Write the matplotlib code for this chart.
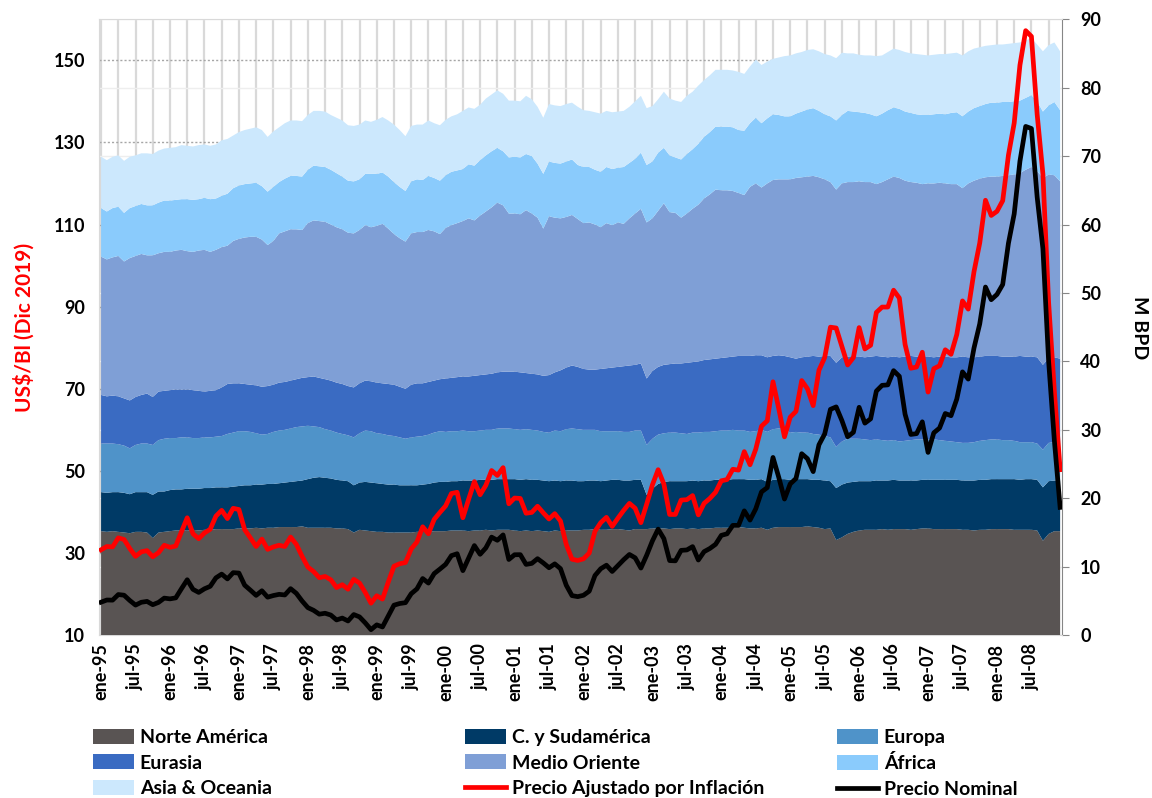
import numpy as np
import matplotlib.pyplot as plt
from matplotlib.patches import Patch
from matplotlib.lines import Line2D

plt.rcParams['font.family'] = ['Lato', 'DejaVu Sans']
plt.rcParams['font.weight'] = 'bold'

# DATA - monthly, ene-95 .. dic-08
# production by region (M BPD), one row per year
norte_america = [
    15.2, 15.1, 15.2, 15.1, 15.0, 14.9, 15.1, 15.1, 15.0, 14.2, 15.0, 15.1,
    15.2, 15.3, 15.3, 15.3, 15.4, 15.3, 15.4, 15.4, 15.5, 15.5, 15.5, 15.5,
    15.6, 15.6, 15.6, 15.7, 15.6, 15.7, 15.7, 15.8, 15.8, 15.8, 15.8, 15.9,
    15.7, 15.7, 15.7, 15.7, 15.7, 15.6, 15.6, 15.5, 15.0, 15.4, 15.3, 15.2,
    15.1, 15.1, 15.0, 15.0, 15.0, 15.0, 15.0, 15.1, 15.1, 15.1, 15.2, 15.2,
    15.2, 15.3, 15.3, 15.3, 15.2, 15.3, 15.3, 15.4, 15.3, 15.4, 15.4, 15.4,
    15.3, 15.2, 15.3, 15.2, 15.3, 15.2, 15.1, 15.3, 15.2, 15.3, 15.3, 15.3,
    15.4, 15.4, 15.5, 15.4, 15.4, 15.5, 15.5, 15.4, 15.3, 15.5, 15.5, 15.5,
    15.6, 15.6, 15.6, 15.5, 15.6, 15.6, 15.5, 15.6, 15.5, 15.6, 15.6, 15.7,
    15.7, 15.7, 15.7, 15.8, 15.7, 15.6, 15.6, 15.7, 15.4, 15.7, 15.8, 15.8,
    15.8, 15.8, 15.8, 15.9, 15.8, 15.7, 15.5, 15.6, 13.9, 14.3, 14.8, 15.1,
    15.3, 15.4, 15.4, 15.4, 15.5, 15.4, 15.5, 15.5, 15.5, 15.4, 15.5, 15.6,
    15.6, 15.5, 15.5, 15.5, 15.5, 15.5, 15.4, 15.4, 15.3, 15.4, 15.4, 15.5,
    15.5, 15.5, 15.5, 15.4, 15.4, 15.4, 15.4, 15.3, 13.8, 14.8, 15.2, 15.2,
]
sudamerica = [
    5.7, 5.7, 5.7, 5.8, 5.8, 5.7, 5.8, 5.8, 5.9, 6.3, 6.0, 5.9,
    6.0, 6.0, 6.0, 6.1, 6.0, 6.1, 6.1, 6.1, 6.1, 6.1, 6.1, 6.2,
    6.2, 6.3, 6.3, 6.3, 6.4, 6.4, 6.4, 6.4, 6.5, 6.6, 6.7, 6.7,
    7.1, 7.3, 7.4, 7.3, 7.2, 7.1, 7.0, 7.0, 6.9, 6.9, 7.1, 7.1,
    7.1, 7.0, 7.0, 7.0, 6.9, 6.9, 6.9, 6.8, 6.9, 7.0, 7.1, 7.2,
    7.2, 7.2, 7.2, 7.3, 7.4, 7.3, 7.4, 7.3, 7.4, 7.4, 7.4, 7.4,
    7.5, 7.5, 7.5, 7.5, 7.4, 7.4, 7.4, 7.3, 7.3, 7.3, 7.3, 7.2,
    7.1, 7.2, 7.1, 7.1, 7.2, 7.2, 7.2, 7.2, 7.3, 7.2, 7.2, 5.0,
    5.8, 6.5, 6.8, 7.0, 6.9, 6.9, 7.0, 7.0, 7.0, 7.0, 7.0, 7.0,
    7.0, 7.0, 7.1, 7.0, 7.1, 7.1, 7.1, 7.1, 7.0, 7.0, 7.0, 7.0,
    6.9, 7.0, 7.0, 6.9, 6.9, 7.0, 7.1, 6.9, 7.6, 7.7, 7.5, 7.3,
    7.2, 7.1, 7.1, 7.2, 7.1, 7.2, 7.2, 7.1, 7.1, 7.2, 7.1, 7.1,
    7.1, 7.2, 7.2, 7.2, 7.2, 7.2, 7.2, 7.2, 7.3, 7.3, 7.3, 7.3,
    7.3, 7.3, 7.3, 7.4, 7.3, 7.4, 7.4, 7.4, 7.8, 7.7, 7.4, 7.4,
]
europa = [
    7.1, 7.2, 7.1, 7.0, 6.9, 6.7, 6.9, 7.1, 7.1, 7.3, 7.5, 7.7,
    7.6, 7.5, 7.6, 7.5, 7.4, 7.4, 7.4, 7.4, 7.4, 7.5, 7.8, 7.9,
    8.0, 7.9, 7.8, 7.5, 7.3, 7.3, 7.6, 7.7, 7.7, 7.8, 7.9, 7.9,
    7.8, 7.5, 7.3, 7.1, 7.0, 6.9, 6.8, 6.7, 7.0, 7.2, 7.5, 7.5,
    7.3, 7.3, 7.2, 7.1, 7.0, 6.8, 7.0, 7.1, 7.1, 7.2, 7.3, 7.4,
    7.3, 7.3, 7.3, 7.3, 7.2, 7.2, 7.2, 7.3, 7.3, 7.4, 7.4, 7.4,
    7.3, 7.3, 7.3, 7.3, 7.2, 7.1, 7.1, 7.3, 7.3, 7.5, 7.6, 7.6,
    7.5, 7.4, 7.4, 7.3, 7.2, 7.1, 7.1, 7.1, 7.1, 7.2, 7.2, 7.3,
    7.3, 7.2, 7.1, 7.1, 7.1, 7.0, 6.9, 7.0, 7.1, 7.1, 7.1, 7.1,
    7.2, 7.2, 7.2, 7.1, 7.1, 7.0, 7.1, 7.2, 7.3, 7.4, 7.4, 7.3,
    6.9, 6.9, 6.8, 6.8, 6.7, 6.6, 6.5, 6.4, 6.0, 6.3, 6.4, 6.3,
    6.2, 6.1, 6.0, 6.0, 5.9, 5.8, 5.8, 5.7, 5.8, 5.9, 6.0, 5.9,
    5.9, 5.9, 5.8, 5.7, 5.6, 5.5, 5.5, 5.5, 5.6, 5.7, 5.8, 5.8,
    5.8, 5.7, 5.7, 5.6, 5.5, 5.4, 5.4, 5.3, 5.5, 5.6, 5.6, 5.6,
]
eurasia = [
    7.1, 6.9, 7.0, 7.0, 6.9, 7.0, 7.0, 7.1, 7.3, 7.0, 7.1, 7.0,
    7.0, 7.1, 7.0, 7.0, 7.0, 6.9, 6.7, 6.8, 6.8, 7.1, 7.3, 7.2,
    7.0, 6.9, 6.9, 7.0, 7.0, 7.0, 6.9, 7.0, 7.0, 7.0, 7.0, 7.1,
    7.1, 7.3, 7.2, 7.3, 7.3, 7.3, 7.3, 7.2, 7.3, 7.3, 7.3, 7.3,
    7.4, 7.4, 7.5, 7.5, 7.4, 7.3, 7.7, 7.8, 7.7, 7.7, 7.6, 7.6,
    7.8, 7.8, 7.9, 7.9, 8.0, 8.1, 8.1, 8.1, 8.2, 8.2, 8.3, 8.3,
    8.4, 8.4, 8.2, 8.2, 8.2, 8.2, 8.4, 8.5, 8.9, 9.0, 9.2, 9.1,
    8.9, 8.8, 8.8, 9.1, 9.2, 9.3, 9.4, 9.6, 9.7, 9.6, 9.8, 9.7,
    9.9, 9.9, 10.0, 10.0, 10.1, 10.2, 10.4, 10.3, 10.4, 10.5, 10.6, 10.6,
    10.6, 10.7, 10.7, 10.9, 10.9, 11.1, 11.1, 10.9, 10.9, 10.7, 10.7, 10.7,
    11.0, 10.7, 11.0, 11.1, 11.4, 11.4, 11.7, 11.9, 12.3, 12.3, 12.0, 12.1,
    12.0, 12.0, 12.2, 12.2, 12.2, 12.2, 12.2, 12.3, 12.3, 12.3, 12.1, 12.2,
    12.1, 12.0, 12.2, 12.3, 12.3, 12.4, 12.6, 12.5, 12.4, 12.3, 12.3, 12.2,
    12.2, 12.2, 12.2, 12.3, 12.6, 12.5, 12.5, 12.6, 12.4, 12.4, 12.4, 12.2,
]
medio_oriente = [
    20.2, 20.0, 20.2, 20.5, 20.0, 20.8, 20.6, 20.6, 20.2, 20.7, 20.2, 20.3,
    20.2, 20.3, 20.4, 20.2, 20.2, 20.5, 20.7, 20.3, 20.5, 20.5, 20.2, 20.8,
    21.1, 21.4, 21.6, 21.7, 21.5, 20.6, 21.0, 21.8, 22.0, 22.1, 21.9, 21.6,
    22.5, 22.8, 22.9, 23.0, 22.8, 22.7, 22.6, 22.4, 22.5, 22.4, 22.7, 22.5,
    22.9, 23.3, 22.7, 22.0, 21.7, 21.5, 22.1, 22.1, 22.1, 22.2, 21.8, 21.2,
    22.0, 22.3, 22.5, 22.7, 23.1, 22.7, 23.3, 23.8, 24.3, 24.8, 24.3, 23.1,
    23.1, 23.1, 23.8, 23.4, 22.9, 21.5, 23.2, 22.6, 22.2, 22.0, 22.0, 21.6,
    21.3, 21.5, 21.2, 20.7, 21.2, 20.8, 21.1, 20.8, 21.5, 22.1, 22.6, 22.8,
    22.3, 22.8, 23.6, 22.2, 22.0, 21.3, 21.8, 22.4, 22.9, 23.6, 24.1, 24.7,
    24.5, 24.4, 24.2, 23.8, 23.5, 24.7, 25.1, 24.5, 25.4, 25.7, 25.7, 25.8,
    26.0, 26.4, 26.3, 26.3, 26.3, 26.2, 25.8, 25.4, 25.3, 25.4, 25.5, 25.4,
    25.6, 25.6, 25.5, 25.1, 25.5, 26.0, 26.3, 26.2, 25.7, 25.4, 25.4, 25.1,
    25.3, 25.4, 25.4, 25.3, 25.3, 25.3, 24.6, 25.4, 25.8, 26.0, 26.1, 26.2,
    26.2, 26.4, 26.5, 26.6, 26.7, 27.3, 27.7, 27.2, 27.3, 26.8, 26.6, 25.9,
]
africa = [
    7.1, 7.0, 7.2, 7.2, 7.1, 7.3, 7.3, 7.3, 7.3, 7.3, 7.4, 7.5,
    7.5, 7.4, 7.4, 7.6, 7.6, 7.5, 7.6, 7.7, 7.5, 7.5, 7.6, 7.7,
    7.8, 7.8, 7.8, 7.9, 7.8, 7.8, 7.9, 7.5, 7.7, 7.8, 7.8, 7.8,
    7.8, 8.0, 8.0, 8.0, 8.0, 7.9, 7.7, 7.6, 7.6, 7.4, 7.5, 7.8,
    7.6, 7.5, 7.6, 7.6, 7.5, 7.4, 7.6, 7.7, 7.6, 7.9, 7.8, 7.8,
    7.7, 7.8, 7.7, 7.6, 7.9, 8.0, 8.1, 8.2, 8.2, 8.0, 7.9, 8.2,
    8.3, 8.3, 8.2, 8.4, 7.9, 8.0, 8.0, 8.0, 8.0, 8.1, 8.1, 7.9,
    8.2, 8.1, 8.0, 8.1, 8.2, 8.2, 8.0, 8.3, 8.1, 8.0, 8.2, 8.4,
    8.3, 8.5, 8.1, 8.3, 8.1, 8.5, 8.7, 8.7, 8.9, 9.0, 9.1, 9.2,
    9.3, 9.3, 9.3, 9.2, 9.4, 9.3, 9.6, 9.4, 9.5, 9.6, 9.4, 9.2,
    9.2, 9.4, 9.6, 9.8, 9.9, 9.7, 9.5, 9.6, 10.1, 10.0, 10.4, 10.3,
    10.1, 10.1, 9.9, 9.9, 10.0, 10.1, 10.1, 10.1, 10.1, 10.1, 10.0, 10.1,
    10.0, 10.1, 10.1, 10.1, 10.4, 10.5, 10.5, 10.5, 10.6, 10.6, 10.7, 10.8,
    10.8, 10.8, 10.7, 10.7, 10.6, 10.5, 10.5, 10.2, 9.7, 10.1, 10.7, 10.4,
]
asia_oceania = [
    7.5, 7.5, 7.5, 7.5, 7.6, 7.5, 7.4, 7.4, 7.6, 7.5, 7.6, 7.6,
    7.7, 7.7, 7.9, 7.8, 7.8, 7.9, 7.8, 7.8, 7.9, 8.1, 8.0, 7.7,
    7.8, 7.9, 8.0, 8.1, 8.2, 8.0, 8.1, 8.0, 8.1, 8.1, 8.1, 8.1,
    8.0, 8.0, 8.1, 8.1, 8.0, 8.1, 8.2, 8.1, 8.1, 8.0, 7.8, 7.6,
    7.9, 8.1, 8.2, 8.4, 8.3, 8.0, 8.1, 8.0, 8.1, 8.1, 8.0, 8.1,
    8.1, 8.1, 8.2, 8.5, 8.3, 8.3, 8.1, 8.3, 8.3, 8.4, 8.4, 8.3,
    8.2, 8.2, 8.5, 8.3, 8.3, 8.2, 8.4, 8.4, 8.4, 8.4, 8.3, 8.5,
    8.3, 8.2, 8.4, 8.5, 8.2, 8.3, 8.2, 8.2, 8.2, 8.4, 8.3, 8.3,
    8.1, 7.8, 8.2, 8.3, 8.3, 8.4, 8.5, 8.4, 8.5, 8.3, 8.3, 8.3,
    8.3, 8.3, 8.3, 8.5, 8.3, 8.3, 8.5, 8.5, 8.3, 8.1, 8.4, 8.8,
    8.9, 8.8, 8.7, 8.7, 8.6, 8.7, 8.8, 8.9, 9.1, 9.1, 8.4, 8.5,
    8.4, 8.4, 8.6, 8.8, 8.5, 8.5, 8.6, 8.6, 8.7, 8.7, 8.8, 8.8,
    8.7, 8.7, 8.7, 8.8, 8.7, 8.7, 8.9, 8.8, 8.7, 8.6, 8.5, 8.4,
    8.5, 8.4, 8.5, 8.5, 8.5, 8.4, 8.3, 8.3, 8.8, 8.8, 8.7, 8.6,
]

# oil prices (US$/Bl)
precio_ajustado = [
    30.8, 31.6, 31.5, 33.7, 33.3, 31.1, 29.2, 30.3, 30.6, 29.1, 30.1, 31.9,
    31.4, 31.7, 35.2, 38.6, 34.7, 33.5, 34.9, 35.8, 39.0, 40.4, 38.4, 40.9,
    40.6, 35.7, 33.7, 31.6, 33.4, 30.9, 31.5, 31.9, 31.6, 33.9, 32.1, 29.2,
    26.6, 25.5, 24.0, 24.3, 23.5, 21.6, 22.3, 21.2, 23.6, 22.7, 20.4, 17.8,
    19.6, 18.8, 22.9, 26.8, 27.4, 27.7, 31.0, 32.7, 36.4, 34.7, 38.2, 39.9,
    41.5, 44.5, 44.8, 38.6, 43.1, 47.4, 44.2, 46.5, 50.1, 48.9, 50.8, 42.0,
    43.4, 43.3, 39.7, 39.9, 41.4, 39.8, 38.3, 39.6, 37.8, 32.1, 28.5, 28.2,
    28.6, 30.0, 35.3, 37.4, 38.7, 36.5, 38.5, 40.4, 42.1, 40.9, 37.4, 41.9,
    46.6, 50.3, 46.8, 39.4, 39.4, 42.9, 43.0, 44.0, 39.3, 42.1, 43.3, 44.8,
    47.6, 47.9, 50.4, 50.2, 54.7, 51.5, 55.3, 60.9, 62.2, 71.7, 65.2, 58.3,
    63.1, 64.5, 72.0, 70.0, 65.9, 74.5, 77.6, 85.0, 84.8, 80.3, 75.8, 77.6,
    84.9, 79.7, 80.6, 88.6, 89.9, 89.9, 94.0, 92.1, 80.8, 75.0, 75.3, 78.9,
    69.2, 74.9, 75.6, 79.5, 78.4, 83.2, 91.4, 89.4, 98.5, 105.5, 115.9, 112.2,
    113.2, 115.8, 126.9, 134.7, 148.8, 157.2, 155.8, 136.8, 122.3, 90.9, 69.3, 50.3,
]
precio_nominal = [
    18.04, 18.57, 18.54, 19.90, 19.74, 18.45, 17.33, 18.02, 18.23, 17.43, 17.99, 19.03,
    18.85, 19.09, 21.33, 23.50, 21.17, 20.42, 21.30, 21.90, 23.97, 24.88, 23.71, 25.23,
    25.13, 22.18, 20.97, 19.70, 20.82, 19.26, 19.66, 19.95, 19.80, 21.33, 20.19, 18.33,
    16.72, 16.06, 15.12, 15.35, 14.91, 13.72, 14.17, 13.47, 15.03, 14.46, 13.00, 11.35,
    12.52, 12.01, 14.68, 17.31, 17.72, 17.92, 20.10, 21.28, 23.80, 22.69, 25.00, 26.10,
    27.26, 29.37, 29.84, 25.72, 28.79, 31.82, 29.70, 31.26, 33.88, 33.11, 34.42, 28.44,
    29.59, 29.61, 27.24, 27.49, 28.63, 27.60, 26.43, 27.37, 26.20, 22.17, 19.64, 19.39,
    19.72, 20.72, 24.53, 26.18, 27.04, 25.52, 26.97, 28.39, 29.66, 28.84, 26.35, 29.46,
    32.95, 35.83, 33.51, 28.17, 28.11, 30.66, 30.76, 31.57, 28.31, 30.34, 31.11, 32.13,
    34.31, 34.69, 36.74, 36.75, 40.28, 38.03, 40.78, 44.90, 45.94, 53.28, 48.47, 43.15,
    46.84, 48.15, 54.19, 52.98, 49.83, 56.35, 59.00, 64.99, 65.59, 62.26, 58.32, 59.41,
    65.49, 61.63, 62.69, 69.44, 70.84, 70.95, 74.41, 73.04, 63.80, 58.89, 59.08, 61.96,
    54.51, 59.28, 60.44, 63.98, 63.45, 67.49, 74.12, 72.36, 79.92, 85.80, 94.77, 91.69,
    92.97, 95.39, 105.45, 112.58, 125.40, 133.88, 133.37, 116.67, 104.11, 76.61, 57.31, 41.12,
]

meses = ["ene-95", "jul-95", "ene-96", "jul-96", "ene-97", "jul-97", "ene-98",
         "jul-98", "ene-99", "jul-99", "ene-00", "jul-00", "ene-01", "jul-01",
         "ene-02", "jul-02", "ene-03", "jul-03", "ene-04", "jul-04", "ene-05",
         "jul-05", "ene-06", "jul-06", "ene-07", "jul-07", "ene-08", "jul-08"]

regiones = ["Norte América", "C. y Sudamérica", "Europa", "Eurasia",
            "Medio Oriente", "África", "Asia & Oceania"]
colores = ["#595453", "#003a66", "#4f93c9", "#3a6bc2",
           "#7f9fd6", "#8acbfc", "#cce8fd"]

x = np.arange(len(precio_nominal))

fig = plt.figure(figsize=(11.52, 7.98), dpi=100)
ax = fig.add_subplot(111)
fig.subplots_adjust(left=0.086, right=0.922, top=0.976, bottom=0.204)
ax2 = ax.twinx()   # prices go on top of the areas

# stacked production (right axis)
ax.stackplot(x, norte_america, sudamerica, europa, eurasia, medio_oriente,
             africa, asia_oceania, colors=colores, lw=0, zorder=3)
ax.set_ylim(0, 90)
ax.set_yticks(np.arange(0, 91, 10))
ax.set_xlim(-0.35, len(x) - 0.65)
ax.set_xticks(np.arange(0, len(x), 6))
ax.set_xticklabels(meses, rotation=90, fontsize=13, fontweight='bold')
ax.set_xticks(np.arange(0, len(x), 3), minor=True)
ax.grid(axis='x', which='both', color='#d9d9d9', lw=1.6, zorder=0)
ax.grid(axis='y', which='major', color='#eeeeee', lw=1.0, zorder=0)
ax.set_axisbelow(True)

# dotted gridlines at the price ticks, behind the areas
precio_ticks = np.arange(10, 151, 20)
for v in precio_ticks:
    ax.axhline((v - 10) * 90 / 150, color='#a6a6a6', lw=1.0,
               ls=(0, (1.5, 1.5)), zorder=1)

# prices (left axis)
ax2.plot(x, precio_ajustado, color='#ff0000', lw=3.4, zorder=5)
ax2.plot(x, precio_nominal, color='black', lw=3.4, zorder=5)
ax2.set_ylim(10, 160)
ax2.set_yticks(precio_ticks)

# swap sides: prices on the left, production on the right
ax.yaxis.tick_right()
ax.yaxis.set_label_position('right')
ax2.yaxis.tick_left()
ax2.yaxis.set_label_position('left')

ax.set_ylabel("M BPD", fontsize=14, fontweight='bold', rotation=-90, labelpad=34)
ax.tick_params(axis='y', which='major', direction='out', length=5,
               color='#868686', labelsize=13, pad=8)
ax.tick_params(axis='x', which='both', length=0, pad=6)
for t in ax.get_yticklabels():
    t.set_fontweight('bold')
for side in ['left', 'top', 'bottom']:
    ax.spines[side].set_color('#d9d9d9')
ax.spines['right'].set_color('#868686')

ax2.set_ylabel("US$/Bl (Dic 2019)", color='#ff0000', fontsize=15,
               fontweight='bold', labelpad=14)
ax2.tick_params(axis='y', length=0, labelsize=13, pad=10)
for t in ax2.get_yticklabels():
    t.set_fontweight('bold')
for s in ax2.spines.values():
    s.set_visible(False)

# legend - three columns like the original
h = [Patch(facecolor=c, edgecolor='none') for c in colores]
h_red = Line2D([], [], color='#ff0000', lw=3.4)
h_blk = Line2D([], [], color='black', lw=3.4)
cols = [
    ([h[0], h[3], h[6]], [regiones[0], regiones[3], regiones[6]], 93),
    ([h[1], h[4], h_red], [regiones[1], regiones[4], "Precio Ajustado por Inflación"], 465),
    ([h[2], h[5], h_blk], [regiones[2], regiones[5], "Precio Nominal"], 837),
]
for handles, labels, px in cols:
    fig.legend(handles, labels, loc='upper left',
               bbox_to_anchor=(px / 1152, 1 - 729 / 798),
               frameon=False, borderpad=0, borderaxespad=0,
               handlelength=2.1, handleheight=0.8, handletextpad=0.3,
               labelspacing=0.42, prop={'weight': 'bold', 'size': 14})

fig.savefig("out.png", dpi=100)
